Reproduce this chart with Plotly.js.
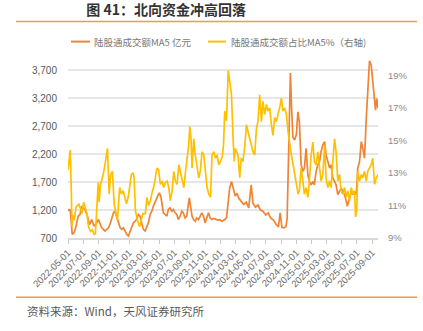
<!DOCTYPE html>
<html><head><meta charset="utf-8">
<script src="https://cdn.plot.ly/plotly-3.0.1.min.js"></script>
<style>html,body{margin:0;padding:0;background:#fff}#chart{width:423px;height:331px}</style>
</head><body><div id="chart"></div>
<script>
// ---- data ----
const amountDates = ['2022-05-01','2022-05-05','2022-05-10','2022-05-14','2022-05-18','2022-05-25','2022-05-30','2022-06-05','2022-06-11','2022-06-18','2022-06-25','2022-07-08','2022-07-18','2022-07-26','2022-08-04','2022-08-13','2022-08-24','2022-08-31','2022-09-06','2022-09-13','2022-09-20','2022-09-26','2022-10-03','2022-10-10','2022-10-16','2022-10-23','2022-10-30','2022-11-05','2022-11-12','2022-11-19','2022-11-26','2022-12-02','2022-12-09','2022-12-16','2022-12-22','2022-12-29','2023-01-05','2023-01-11','2023-01-18','2023-01-25','2023-01-31','2023-02-07','2023-02-14','2023-02-20','2023-02-27','2023-03-06','2023-03-13','2023-03-19','2023-03-26','2023-04-02','2023-04-08','2023-04-15','2023-04-22','2023-04-28','2023-05-02','2023-05-08','2023-05-13','2023-05-18','2023-05-25','2023-06-01','2023-06-07','2023-06-14','2023-06-21','2023-06-27','2023-07-04','2023-07-11','2023-07-17','2023-07-24','2023-07-31','2023-08-06','2023-08-13','2023-08-20','2023-08-26','2023-08-30','2023-09-10','2023-09-16','2023-09-23','2023-09-29','2023-10-06','2023-10-12','2023-10-19','2023-10-26','2023-11-01','2023-11-08','2023-11-15','2023-11-21','2023-11-28','2023-12-05','2023-12-15','2023-12-23','2023-12-30','2024-01-08','2024-01-19','2024-01-26','2024-02-02','2024-02-08','2024-02-15','2024-02-22','2024-03-01','2024-03-08','2024-03-15','2024-03-25','2024-04-04','2024-04-14','2024-04-24','2024-05-04','2024-05-11','2024-05-21','2024-05-31','2024-06-10','2024-06-20','2024-07-01','2024-07-11','2024-07-21','2024-08-01','2024-08-11','2024-08-21','2024-08-28','2024-09-04','2024-09-12','2024-09-20','2024-09-25','2024-09-30','2024-10-04','2024-10-08','2024-10-13','2024-10-18','2024-10-25','2024-11-01','2024-11-07','2024-11-13','2024-11-20','2024-11-27','2024-12-03','2024-12-10','2024-12-17','2024-12-23','2024-12-30','2025-01-06','2025-01-12','2025-01-19','2025-01-26','2025-02-02','2025-02-08','2025-02-15','2025-02-22','2025-02-28','2025-03-07','2025-03-14','2025-03-20','2025-03-27','2025-04-03','2025-04-09','2025-04-16','2025-04-23','2025-04-29','2025-05-06','2025-05-13','2025-05-20','2025-05-24','2025-06-02','2025-06-09','2025-06-15','2025-06-22','2025-06-29','2025-07-05','2025-07-12','2025-07-19','2025-07-25','2025-08-01','2025-08-08','2025-08-14','2025-08-21','2025-08-28','2025-09-03','2025-09-10','2025-09-14','2025-09-19','2025-09-24'];
const amountMA5 = [1180,1210,1200,854,765,795,854,972,1090,1120,1268,1210,1090,940,1030,913,972,1031,972,883,854,824,854,883,942,1031,1150,1180,1090,972,883,854,883,824,765,735,824,913,972,1000,1031,1120,1090,972,854,824,913,972,1120,1180,1268,1357,1416,1475,1505,1445,1328,1150,1120,1090,1210,1240,1180,1210,1150,1120,1030,1090,1180,1150,1060,1090,1300,1416,1090,1030,1000,1060,1030,1090,1150,1090,970,1060,1150,1060,1030,1050,1030,1020,1029,1000,1030,1060,1350,1600,1710,1590,1450,1500,1415,1355,1300,1340,1240,1650,1320,1250,1290,1200,1180,1110,1150,1060,1020,950,900,1150,890,880,900,1050,2000,3000,3650,3000,2500,2450,2550,2955,2780,2010,1890,1950,2305,1830,1710,1650,1710,1650,1890,2008,2068,2245,2364,2423,2186,2068,1950,2008,1771,1711,1652,1474,1533,1593,1533,1474,1355,1267,1415,1533,1474,1533,1474,1950,2068,2423,2305,2127,2839,3432,3870,3787,3490,3075,2986,3194,3016];

const shareDates = ['2022-05-01','2022-05-10','2022-05-14','2022-05-17','2022-05-21','2022-05-26','2022-06-02','2022-06-09','2022-06-13','2022-06-20','2022-06-26','2022-07-03','2022-07-09','2022-07-16','2022-07-22','2022-07-30','2022-08-07','2022-08-14','2022-08-19','2022-08-30','2022-09-03','2022-09-08','2022-09-12','2022-09-19','2022-09-26','2022-10-06','2022-10-13','2022-10-19','2022-10-26','2022-11-02','2022-11-07','2022-11-15','2022-11-24','2022-12-01','2022-12-08','2022-12-14','2022-12-21','2022-12-28','2023-01-04','2023-01-10','2023-01-17','2023-01-21','2023-01-26','2023-02-03','2023-02-12','2023-02-18','2023-02-25','2023-03-07','2023-03-13','2023-03-20','2023-03-27','2023-04-03','2023-04-09','2023-04-15','2023-04-22','2023-04-29','2023-05-06','2023-05-13','2023-05-19','2023-05-26','2023-06-02','2023-06-09','2023-06-15','2023-06-22','2023-06-29','2023-07-05','2023-07-12','2023-07-19','2023-07-25','2023-08-01','2023-08-08','2023-08-15','2023-08-21','2023-08-27','2023-09-01','2023-09-06','2023-09-10','2023-09-17','2023-09-23','2023-09-30','2023-10-07','2023-10-13','2023-10-20','2023-10-27','2023-11-03','2023-11-09','2023-11-16','2023-11-23','2023-11-29','2023-12-06','2023-12-13','2023-12-19','2023-12-26','2024-01-02','2024-01-09','2024-01-14','2024-01-19','2024-01-26','2024-02-02','2024-02-08','2024-02-15','2024-02-22','2024-02-26','2024-03-01','2024-03-12','2024-03-19','2024-03-25','2024-04-01','2024-04-08','2024-04-15','2024-04-21','2024-04-28','2024-05-05','2024-05-11','2024-05-18','2024-05-25','2024-05-31','2024-06-07','2024-06-14','2024-06-20','2024-06-27','2024-07-04','2024-07-10','2024-07-17','2024-07-24','2024-07-30','2024-08-06','2024-08-13','2024-08-19','2024-08-26','2024-09-02','2024-09-08','2024-09-15','2024-09-22','2024-09-29','2024-10-05','2024-10-12','2024-10-19','2024-10-25','2024-11-01','2024-11-08','2024-11-13','2024-11-20','2024-11-27','2024-12-03','2024-12-10','2024-12-17','2024-12-23','2024-12-30','2025-01-06','2025-01-12','2025-01-19','2025-01-26','2025-02-02','2025-02-08','2025-02-15','2025-02-22','2025-02-28','2025-03-07','2025-03-14','2025-03-20','2025-03-27','2025-04-03','2025-04-09','2025-04-16','2025-04-23','2025-04-29','2025-05-06','2025-05-13','2025-05-20','2025-05-26','2025-06-02','2025-06-09','2025-06-15','2025-06-22','2025-06-26','2025-07-01','2025-07-05','2025-07-12','2025-07-19','2025-07-25','2025-08-01','2025-08-08','2025-08-14','2025-08-21','2025-08-28','2025-09-03','2025-09-10','2025-09-17','2025-09-24'];
const shareMA5 = [13.2,14.4,12.1,9.7,10.4,10.1,10.9,11.0,11.1,10.8,10.5,11.2,10.9,10.5,9.7,9.4,9.5,9.2,9.3,12.4,11.2,12.3,12.5,12.9,13.5,14.5,11.7,12.9,13.1,11.1,10.7,10.1,12.1,11.7,11.9,11.5,11.1,11.5,12.2,12.9,13.0,12.7,10.7,10.1,9.7,10.1,10.5,10.5,11.5,11.0,11.3,11.8,12.1,12.6,13.3,13.2,12.3,12.5,12.1,12.4,12.5,12.1,11.3,11.9,13.1,12.5,12.3,13.5,13.1,12.7,12.1,13.1,13.7,14.6,15.85,15.1,13.3,15.1,14.1,13.3,12.7,13.1,14.3,14.1,12.9,12.1,11.7,11.5,14.1,14.3,13.9,14.1,13.5,13.7,14.0,14.7,16.8,16.2,19.3,18.4,17.8,14.9,13.7,14.5,14.1,12.7,13.9,13.7,14.6,15.95,15.5,15.1,14.7,14.3,14.1,15.75,16.15,17.8,16.15,17.4,16.6,17.2,16.8,17.0,15.95,15.3,16.4,16.15,16.6,17.0,17.6,16.8,17.0,16.6,15.5,14.7,14.1,13.5,12.9,12.1,11.7,11.9,13.3,12.5,11.7,12.1,11.5,12.5,14.1,14.9,13.7,13.5,14.3,13.3,12.5,12.9,14.7,12.7,12.1,12.5,12.1,13.7,15.1,14.3,12.5,12.9,11.9,11.7,12.1,11.5,11.9,11.3,12.1,11.7,11.9,10.3,10.7,13.1,12.5,12.9,12.7,13.1,12.5,13.1,13.3,13.5,13.9,12.3,12.7,12.9];

const leftTicks = [700,1200,1700,2200,2700,3200,3700];
const rightTicks = [9,11,13,15,17,19];
const rightTickText = ['9%','11%','13%','15%','17%','19%'];
const seriesNames = ['陆股通成交额MA5 亿元','陆股通成交额占比MA5%（右轴)'];
const titleText = '图 41：北向资金冲高回落';
const sourceText = '资料来源：Wind，天风证券研究所';

// ---- layout helpers ----
const W = 423, H = 331;
const M = {l: 68, r: 45, t: 58.5, b: 92.5};
const pw = W - M.l - M.r, ph = H - M.t - M.b;
const px = v => (v - M.l) / pw;
const py = v => (H - M.b - v) / ph;

const ORANGE = '#EE8434', YELLOW = '#FFC000', RULE = '#F39A3C';
const FONT = 'Liberation Sans, Arial, "Noto Sans CJK SC", sans-serif';
const CJK = '"Noto Sans CJK SC", "Liberation Sans", sans-serif';

const traces = [
  {x: amountDates, y: amountMA5, name: seriesNames[0], type: 'scatter', mode: 'lines',
   line: {color: ORANGE, width: 1.7}, yaxis: 'y'},
  {x: shareDates, y: shareMA5, name: seriesNames[1], type: 'scatter', mode: 'lines',
   line: {color: YELLOW, width: 1.7}, yaxis: 'y2'}
];

const layout = {
  width: W, height: H, margin: M, showlegend: false,
  paper_bgcolor: '#fff', plot_bgcolor: '#fff',
  font: {family: FONT, color: '#595959', size: 10},
  title: {text: '<b>' + titleText + '</b>', x: 25 / W, xanchor: 'left', xref: 'paper',
          y: 1 - 10 / H, yanchor: 'middle', yref: 'container',
          font: {family: CJK, size: 14, color: '#333333'}},
  xaxis: {type: 'date', range: ['2022-05-01', '2025-09-24'],
          tick0: '2022-05-01', dtick: 'M2', tickformat: '%Y-%m-%d', tickangle: -45,
          tickfont: {size: 9.5, color: '#6b6b6b'}, ticks: 'outside', ticklen: 4,
          tickcolor: '#C8C8C8', showline: true, linecolor: '#D9D9D9', linewidth: 1.5,
          showgrid: false, zeroline: false, fixedrange: true},
  yaxis: {range: [700, 3900], tickvals: leftTicks, tickformat: ',d',
          tickfont: {size: 10, color: '#595959'}, ticks: 'outside', ticklen: 8,
          tickcolor: 'rgba(0,0,0,0)', gridcolor: '#E6E6E6', gridwidth: 1.5,
          showline: false, zeroline: false},
  yaxis2: {range: [9, 20], tickmode: 'array', tickvals: rightTicks, ticktext: rightTickText,
           overlaying: 'y', side: 'right',
           tickfont: {size: 9.5, color: '#8a8a8a'}, ticks: 'outside', ticklen: 7,
           tickcolor: 'rgba(0,0,0,0)', showgrid: false, zeroline: false, showline: false},
  shapes: [
    {type: 'line', xref: 'paper', yref: 'paper', x0: px(16), x1: px(417), y0: py(20.7), y1: py(20.7),
     line: {color: RULE, width: 1.5}},
    {type: 'line', xref: 'paper', yref: 'paper', x0: px(16), x1: px(417), y0: py(298), y1: py(298),
     line: {color: RULE, width: 1.5}},
    {type: 'line', xref: 'paper', yref: 'paper', x0: px(71), x1: px(90), y0: py(41), y1: py(41),
     line: {color: ORANGE, width: 2}},
    {type: 'line', xref: 'paper', yref: 'paper', x0: px(208), x1: px(226), y0: py(41), y1: py(41),
     line: {color: YELLOW, width: 2}}
  ],
  annotations: [
    {xref: 'paper', yref: 'paper', x: px(92), y: py(41), xanchor: 'left', yanchor: 'middle',
     text: seriesNames[0], showarrow: false, font: {family: CJK, size: 9.5, color: '#777777'}},
    {xref: 'paper', yref: 'paper', x: px(229), y: py(41), xanchor: 'left', yanchor: 'middle',
     text: seriesNames[1], showarrow: false, font: {family: CJK, size: 9.5, color: '#777777'}},
    {xref: 'paper', yref: 'paper', x: px(25), y: py(312), xanchor: 'left', yanchor: 'middle',
     text: sourceText, showarrow: false, font: {family: CJK, size: 11.5, color: '#595959'}}
  ]
};

Plotly.newPlot('chart', traces, layout, {displayModeBar: false, staticPlot: true});
</script></body></html>
